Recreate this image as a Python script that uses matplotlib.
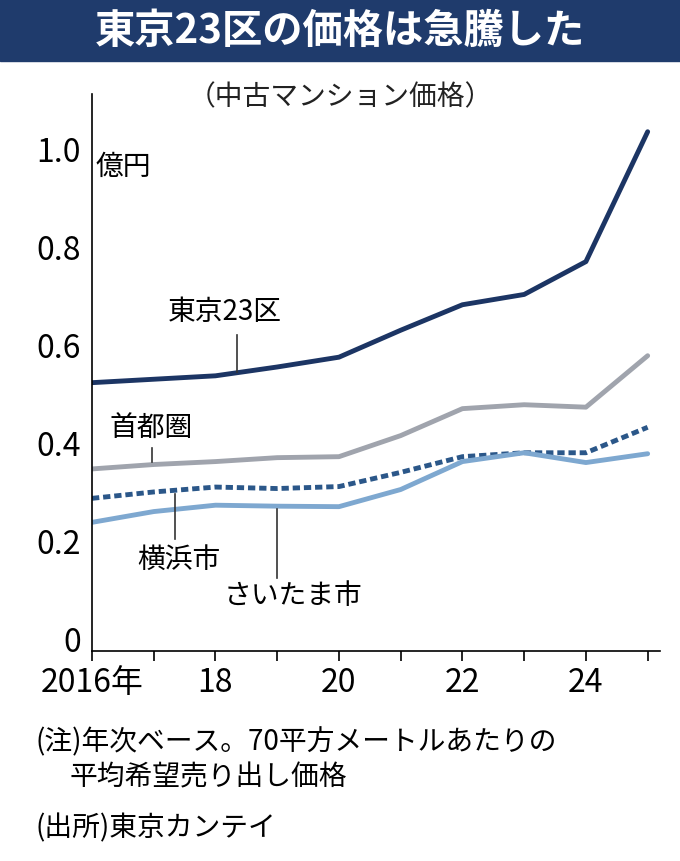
import matplotlib
matplotlib.use("Agg")
import matplotlib.pyplot as plt

plt.rcParams['font.family'] = ['Noto Sans CJK JP', 'DejaVu Sans']

years = [2016, 2017, 2018, 2019, 2020, 2021, 2022, 2023, 2024, 2025]
tokyo23 = [0.523, 0.530, 0.537, 0.555, 0.575, 0.630, 0.682, 0.703, 0.770, 1.035]
shutoken = [0.347, 0.356, 0.362, 0.370, 0.372, 0.415, 0.470, 0.478, 0.473, 0.578]
yokohama = [0.287, 0.300, 0.310, 0.307, 0.311, 0.340, 0.372, 0.380, 0.380, 0.432]
saitama = [0.238, 0.260, 0.273, 0.271, 0.270, 0.305, 0.362, 0.380, 0.360, 0.378]
xtick_labels = ["2016年", "18", "20", "22", "24"]

W, H = 680, 862
fig = plt.figure(figsize=(W / 100, H / 100), dpi=100)

# title bar
fig.patches.append(plt.Rectangle((0, 1 - 62 / H), 1, 62 / H, transform=fig.transFigure,
                                 color="#1f3b6c", zorder=0))
fig.text(0.5, 1 - 31 / H, "東京23区の価格は急騰した", color="white", fontsize=29,
         fontweight="bold", ha="center", va="center")
fig.text(0.5, 1 - 97 / H, "（中古マンション価格）", fontsize=20, ha="center", va="center",
         color="#222222")

ax = fig.add_axes([92 / W, 1 - 652 / H, (660 - 92) / W, (652 - 95) / H])
ax.plot(years, tokyo23, color="#1c3564", lw=3.5, solid_capstyle="round")
ax.plot(years, shutoken, color="#a0a4ad", lw=3.5, solid_capstyle="round")
ax.plot(years, yokohama, color="#2b5789", lw=3.5, ls=(0, (1.5, 0.8)))
ax.plot(years, saitama, color="#7ea8d0", lw=3.5, solid_capstyle="round")

ax.set_xlim(2016, 2025.2)
ax.set_ylim(-0.0245, 1.112)
ax.set_xticks(years, minor=True)
ax.set_xticks([2016, 2018, 2020, 2022, 2024])
ax.set_xticklabels(xtick_labels, fontsize=23)
ax.set_yticks([0, 0.2, 0.4, 0.6, 0.8, 1.0])
ax.set_yticklabels(["0", "0.2", "0.4", "0.6", "0.8", "1.0"], fontsize=23,
                   fontstretch="condensed")
ax.tick_params(axis="y", length=0, pad=8)
ax.tick_params(axis="x", which="both", direction="out", length=7, width=1.2, pad=4)
for s in ["top", "right"]:
    ax.spines[s].set_visible(False)
for s in ["left", "bottom"]:
    ax.spines[s].set_linewidth(1.2)

ax.text(2016.05, 0.965, "億円", fontsize=20, va="center")

def label(text, xt, yt, x0, y0, y1, ha="center"):
    ax.text(xt, yt, text, fontsize=20, ha=ha, va="center")
    ax.plot([x0, x0], [y0, y1], color="#333333", lw=1.2)

label("東京23区", 2018.15, 0.67, 2018.35, 0.62, 0.545)
label("首都圏", 2016.95, 0.43, 2016.97, 0.39, 0.362)
label("横浜市", 2017.4, 0.163, 2017.35, 0.295, 0.205)
label("さいたま市", 2019.25, 0.09, 2019.0, 0.265, 0.125)

fig.text(35 / W, 1 - 742 / H, "(注)年次ベース。70平方メートルあたりの", fontsize=20, va="center")
fig.text(70 / W, 1 - 777 / H, "平均希望売り出し価格", fontsize=20, va="center")
fig.text(35 / W, 1 - 828 / H, "(出所)東京カンテイ", fontsize=20, va="center")

fig.savefig("out.png", dpi=100)
